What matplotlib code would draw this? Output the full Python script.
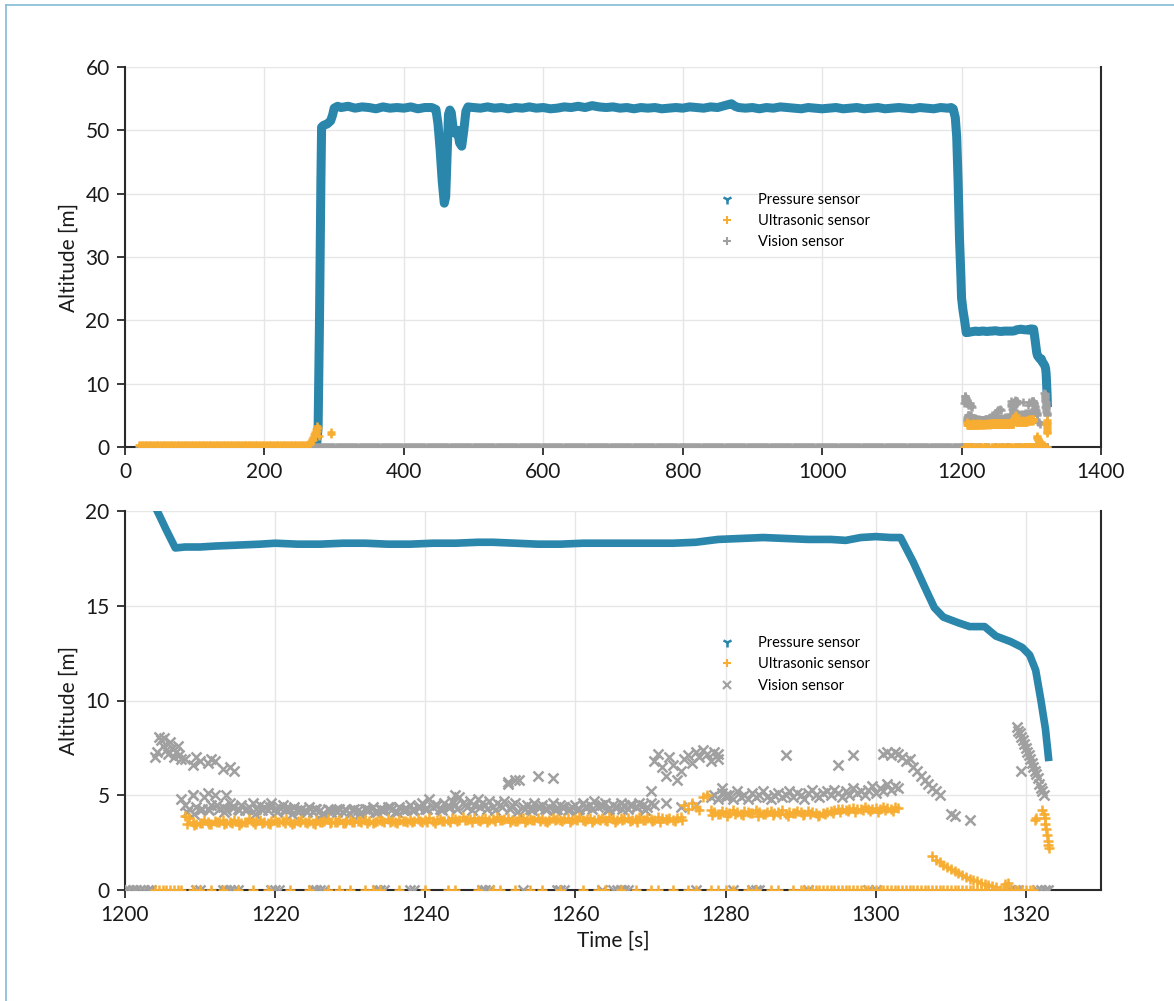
import numpy as np
import matplotlib
matplotlib.use("Agg")
import matplotlib.pyplot as plt
from matplotlib.lines import Line2D

plt.rcParams['font.family'] = ['Lato', 'DejaVu Sans']

# ---------------- data ----------------
# Pressure sensor (time [s], altitude [m])
pressure_t = [275, 277, 279, 281, 282, 285, 290, 295, 298, 300, 305, 310, 320, 330, 340, 350, 360,
              370, 380, 390, 400, 410, 420, 430, 440, 446, 449, 452, 455, 458, 460, 462, 464, 466,
              468, 471, 474, 477, 480, 483, 486, 489, 492,
              500, 510, 520, 530, 540, 550, 560, 570, 580, 590, 600, 610, 620, 630, 640, 650, 660,
              670, 680, 690, 700, 710, 720, 730, 740, 750, 760, 770, 780, 790, 800, 810, 820, 830,
              840, 850, 860, 870, 875, 880, 890, 900, 910, 920, 930, 940, 950, 960, 970, 980, 990,
              1000, 1010, 1020, 1030, 1040, 1050, 1060, 1070, 1080, 1090, 1100, 1110, 1120, 1130,
              1140, 1150, 1160, 1170, 1180, 1185, 1188, 1191, 1193, 1195, 1197, 1199,
              1200, 1202, 1204.3, 1205.5, 1206.7, 1208, 1210, 1212, 1215, 1218, 1220, 1223, 1226,
              1229, 1232, 1235, 1238, 1241, 1244, 1247, 1249, 1252, 1255, 1258, 1261, 1264, 1267,
              1270, 1273, 1276, 1279, 1282, 1285, 1288, 1291, 1294, 1296, 1298, 1300, 1302, 1303.3,
              1305, 1306.5, 1307.8, 1309, 1311, 1312.5, 1314.5, 1316, 1318, 1319.5, 1320.5, 1321.3,
              1322, 1322.6, 1323]
pressure_v = [0.5, 3, 20, 42, 50.5, 50.8, 51, 51.5, 52.5, 53.5, 53.8, 53.6, 53.8, 53.5, 53.7, 53.6, 53.4,
              53.7, 53.5, 53.6, 53.5, 53.7, 53.4, 53.6, 53.6, 53.3, 51, 47, 42, 38.5, 39.5, 46, 52.5, 53.2,
              52.8, 50, 49.5, 50, 48, 47.5, 50, 53, 53.7,
              53.6, 53.5, 53.7, 53.5, 53.6, 53.4, 53.6, 53.5, 53.7, 53.5, 53.6, 53.4, 53.5, 53.7, 53.6, 53.8, 53.6,
              53.9, 53.7, 53.6, 53.7, 53.5, 53.6, 53.4, 53.6, 53.5, 53.6, 53.4, 53.5, 53.6, 53.5, 53.7, 53.6, 53.5,
              53.7, 53.6, 53.9, 54.2, 53.8, 53.6, 53.5, 53.6, 53.4, 53.6, 53.5, 53.7, 53.6, 53.5, 53.4, 53.6, 53.5,
              53.4, 53.5, 53.6, 53.4, 53.5, 53.6, 53.4, 53.5, 53.6, 53.4, 53.5, 53.6, 53.5, 53.4,
              53.6, 53.5, 53.4, 53.6, 53.5, 53.6, 53.4, 52, 49, 42, 33, 27,
              23.5, 21.6, 20, 19, 18.05, 18.1, 18.1, 18.15, 18.2, 18.25, 18.3, 18.25, 18.25,
              18.3, 18.3, 18.25, 18.25, 18.3, 18.3, 18.35, 18.35, 18.3, 18.25, 18.25, 18.3, 18.3, 18.3,
              18.3, 18.3, 18.35, 18.5, 18.55, 18.6, 18.55, 18.5, 18.5, 18.45, 18.6, 18.65, 18.6, 18.6,
              17.3, 16, 14.9, 14.4, 14.1, 13.9, 13.9, 13.4, 13.1, 12.8, 12.4, 11.6,
              10, 8.5, 7.0]

# Ultrasonic sensor
ultra_early_t = list(np.arange(20, 264, 2.0))
ultra_early_v = [0.3] * len(ultra_early_t)
ultra_rise_t = [265, 266, 267, 268, 269, 270, 271, 272, 273, 274, 275, 276, 277, 278, 295, 296]
ultra_rise_v = [0.5, 0.8, 1.0, 1.3, 1.1, 1.6, 2.0, 1.7, 2.4, 2.9, 3.3, 2.6, 3.0, 1.8, 2.3, 2.1]

ultra_s1_t = list(np.arange(1208.0, 1275.0, 0.5))
ultra_s1_v = [3.9, 3.8, 3.6, 3.5, 3.55, 3.7, 3.6, 3.5, 3.65, 3.6,
              3.7, 3.55, 3.6, 3.7, 3.65, 3.55, 3.6, 3.75, 3.6, 3.65,
              3.7, 3.6, 3.55, 3.65, 3.7, 3.6, 3.65, 3.75, 3.6, 3.55,
              3.65, 3.7, 3.6, 3.65, 3.55, 3.7, 3.6, 3.65, 3.75, 3.6,
              3.6, 3.7, 3.55, 3.65, 3.7, 3.6, 3.65, 3.6, 3.7, 3.65,
              3.55, 3.65, 3.7, 3.6, 3.75, 3.65, 3.6, 3.7, 3.65, 3.6,
              3.7, 3.65, 3.75, 3.6, 3.7, 3.8, 3.65, 3.7, 3.75, 3.65,
              3.7, 3.8, 3.75, 3.7, 3.85, 3.7, 3.75, 3.8, 3.7, 3.75,
              3.8, 3.7, 3.75, 3.85, 3.7, 3.75, 3.8, 3.7, 3.65, 3.75,
              3.8, 3.7, 3.75, 3.7, 3.8, 3.75, 3.65, 3.7, 3.8, 3.75,
              3.7, 3.75, 3.8, 3.7, 3.75, 3.85, 3.7, 3.75, 3.8, 3.7,
              3.75, 3.8, 3.7, 3.85, 3.75, 3.7, 3.8, 3.75, 3.8, 3.7,
              3.75, 3.85, 3.7, 3.8, 3.75, 3.7, 3.85, 3.8, 3.75, 3.8,
              3.7, 3.8, 3.85, 4.5]
ultra_s1b_t = list(np.arange(1208.25, 1275.0, 1.0))
ultra_s1b_v = [3.5, 3.45, 3.55, 3.5, 3.6, 3.5, 3.55, 3.45, 3.6, 3.5,
               3.55, 3.5, 3.6, 3.55, 3.5, 3.6, 3.55, 3.5, 3.6, 3.55,
               3.6, 3.55, 3.6, 3.65, 3.55, 3.6, 3.65, 3.6, 3.55, 3.65,
               3.6, 3.65, 3.6, 3.55, 3.65, 3.6, 3.65, 3.7, 3.6, 3.65,
               3.6, 3.65, 3.7, 3.6, 3.65, 3.6, 3.7, 3.65, 3.6, 3.7,
               3.65, 3.6, 3.7, 3.65, 3.6, 3.7, 3.65, 3.6, 3.7, 3.65,
               3.6, 3.7, 3.65, 3.6, 3.7, 3.65, 3.7]
ultra_s2_t = list(np.arange(1275.0, 1303.5, 0.5))
ultra_s2_v = [4.3, 4.6, 4.4, 4.2, 4.9, 5.0, 4.2, 4.1, 4.0, 4.15,
              4.1, 4.05, 4.2, 4.1, 4.0, 4.15, 4.1, 4.05, 4.2, 4.1,
              4.0, 4.1, 4.15, 4.05, 4.1, 4.2, 4.0, 4.1, 4.05, 4.15,
              4.1, 4.0, 4.15, 4.1, 4.05, 3.95, 4.05, 4.1, 4.15, 4.2,
              4.25, 4.3, 4.2, 4.3, 4.35, 4.25, 4.3, 4.4, 4.3, 4.25,
              4.35, 4.3, 4.4, 4.35, 4.3, 4.4, 4.35]
ultra_s2b_t = list(np.arange(1278.25, 1303.0, 1.0))
ultra_s2b_v = [3.95, 4.0, 3.9, 4.0, 3.95, 4.05, 3.9, 4.0, 3.95, 4.0, 3.9, 4.05, 3.95,
               4.0, 3.9, 4.0, 4.05, 4.1, 4.15, 4.1, 4.2, 4.15, 4.1, 4.2, 4.15]
ultra_s3_t = list(np.arange(1307.5, 1316.5, 0.5))
ultra_s3_v = [1.8, 1.6, 1.5, 1.3, 1.2, 1.1, 1.0, 0.9, 0.8, 0.7, 0.6, 0.55, 0.45, 0.35, 0.3, 0.25, 0.2, 0.15]
ultra_s4_t = [1317.2, 1317.6, 1321.2, 1321.4, 1322.2, 1322.4, 1322.5, 1322.6, 1322.7, 1322.8, 1322.9, 1323.0, 1323.1]
ultra_s4_v = [0.3, 0.35, 3.7, 3.8, 4.2, 4.0, 3.8, 3.5, 3.2, 2.9, 2.6, 2.4, 2.2]
ultra_zero_t = ([1204, 1204.5, 1205, 1205.5, 1206, 1206.5, 1207, 1207.5, 1209, 1210, 1211.5, 1213,
                 1215, 1217, 1219, 1222, 1224.5, 1227, 1228.5, 1230, 1232, 1233, 1234, 1236.5, 1240,
                 1243, 1244, 1247, 1249, 1250, 1252, 1254, 1255.5, 1258, 1261, 1263, 1264, 1266,
                 1268, 1270, 1271, 1273, 1275, 1276, 1278, 1279, 1280, 1281, 1283, 1284, 1286, 1287,
                 1289] + list(np.arange(1290, 1321.5, 0.5)))
ultra_zero_v = [0.0] * len(ultra_zero_t)

# Vision sensor
vis_early_t = list(np.arange(20, 1200, 1.5))
vis_early_v = [0.0] * len(vis_early_t)
vis_a_t = list(np.arange(1204.0, 1207.75, 0.25))
vis_a_v = [7.0, 7.3, 8.1, 7.9, 7.6, 8.0, 7.4, 7.2, 7.8, 7.5, 7.0, 7.3, 7.6, 7.1, 6.9]
vis_b_t = [1208, 1209, 1209.5, 1210, 1211, 1211.5, 1212, 1213, 1214, 1214.5]
vis_b_v = [6.9, 6.6, 7.0, 6.8, 6.7, 6.9, 6.8, 6.4, 6.5, 6.3]
vis_c_t = list(np.arange(1207.5, 1270.5, 0.5))
vis_c_v = [4.8, 4.5, 4.3, 5.0, 4.4, 4.2, 4.9, 4.3, 4.5, 5.0,
           4.3, 4.4, 4.2, 4.6, 4.4, 4.3, 4.5, 4.2, 4.4, 4.6,
           4.3, 4.5, 4.4, 4.2, 4.6, 4.3, 4.4, 4.5, 4.2, 4.3,
           4.4, 4.1, 4.3, 4.2, 4.4, 4.1, 4.3, 4.2, 4.0, 4.3,
           4.1, 4.2, 4.3, 4.1, 4.2, 4.0, 4.3, 4.2, 4.1, 4.3,
           4.2, 4.4, 4.1, 4.3, 4.2, 4.4, 4.3, 4.1, 4.4, 4.2,
           4.3, 4.5, 4.2, 4.4, 4.6, 4.3, 4.8, 4.4, 4.5, 4.3,
           4.6, 4.4, 4.7, 4.5, 4.9, 4.6, 4.4, 4.7, 4.5, 4.8,
           4.6, 4.5, 4.7, 4.4, 4.6, 4.5, 4.7, 5.7, 4.5, 4.6,
           5.8, 4.4, 4.5, 4.3, 4.6, 4.4, 4.5, 4.3, 4.4, 4.6,
           4.3, 4.5, 4.4, 4.2, 4.4, 4.5, 4.3, 4.6, 4.4, 4.5,
           4.7, 4.4, 4.5, 4.6, 4.3, 4.5, 4.4, 4.6, 4.5, 4.3,
           4.5, 4.4, 4.6, 4.5, 4.4, 4.6]
vis_c2_t = list(np.arange(1208.25, 1270.0, 1.0))
vis_c2_v = [4.1, 4.0, 4.3, 4.2, 4.5, 4.1, 4.4, 4.2, 4.3, 4.0,
            4.2, 4.4, 4.1, 4.3, 4.0, 4.2, 4.1, 4.3, 4.0, 4.2,
            4.1, 4.3, 4.2, 4.0, 4.3, 4.1, 4.2, 4.4, 4.1, 4.3,
            4.2, 4.4, 4.3, 4.5, 4.2, 4.4, 4.3, 4.5, 4.2, 4.4,
            4.3, 4.2, 4.4, 4.3, 4.1, 4.3, 4.2, 4.4, 4.3, 4.2,
            4.4, 4.3, 4.2, 4.4, 4.3, 4.5, 4.2, 4.4, 4.3, 4.5,
            4.4, 4.2]
vis_out_t = [1209, 1211, 1213.5, 1244, 1251, 1252, 1255, 1257, 1270.5, 1272, 1274, 1276,
             1279, 1288, 1295, 1297, 1310, 1310.5, 1312.5, 1319.3]
vis_out_v = [5.0, 5.1, 5.0, 5.0, 5.6, 5.8, 6.0, 5.9, 4.5, 4.6, 4.4, 4.5,
             7.2, 7.1, 6.6, 7.1, 4.0, 3.9, 3.7, 6.3]
vis_d_t = list(np.arange(1270.0, 1280.5, 0.5))
vis_d_v = [5.2, 6.8, 7.2, 6.5, 6.0, 7.0, 6.6, 5.8, 6.3, 6.9, 7.1, 6.7, 7.3, 7.0, 7.4, 7.2, 6.8,
           7.3, 6.9, 5.4, 5.0]
vis_e_t = list(np.arange(1278.0, 1303.5, 0.5))
vis_e_v = [4.9, 5.0, 4.8, 5.1, 4.9, 5.0, 4.8, 5.2, 4.9, 5.0,
           4.8, 5.1, 4.9, 5.0, 5.2, 4.9, 4.8, 5.0, 5.1, 4.9,
           5.0, 5.2, 4.9, 5.1, 5.0, 4.8, 5.1, 5.3, 5.0, 4.9,
           5.1, 5.2, 5.0, 5.3, 5.1, 4.9, 5.2, 5.0, 5.4, 5.1,
           5.2, 5.0, 5.3, 5.5, 5.1, 5.4, 5.2, 5.6, 5.3, 5.5,
           5.4]
vis_f_t = list(np.arange(1301.0, 1309.0, 0.5))
vis_f_v = [7.2, 7.3, 7.1, 7.3, 7.2, 7.0, 6.8, 6.9, 6.5, 6.3, 6.0, 5.8, 5.6, 5.4, 5.2, 5.0]
vis_g_t = [1318.8, 1319.0, 1319.2, 1319.4, 1319.6, 1319.8, 1320.0, 1320.2, 1320.4, 1320.6,
           1320.8, 1321.0, 1321.2, 1321.4, 1321.6, 1321.8, 1322.0, 1322.2, 1322.4]
vis_g_v = [8.6, 8.4, 8.3, 8.1, 7.9, 7.7, 7.5, 7.3, 7.1, 6.9, 6.7, 6.5, 6.3, 6.1, 5.9, 5.6, 5.4, 5.2, 5.0]
vis_zero_t = [1200, 1200.5, 1201, 1201.5, 1202, 1202.5, 1203, 1203.5, 1209.5, 1210, 1213, 1213.5,
              1214, 1214.5, 1215, 1219.5, 1220, 1220.5, 1225, 1225.5, 1226, 1226.5, 1233.5, 1234,
              1234.5, 1238, 1238.5, 1247.5, 1248, 1248.5, 1253, 1257.5, 1258, 1258.5, 1263.5,
              1265, 1265.5, 1266, 1266.5, 1267, 1276, 1281, 1283.5, 1284, 1284.5, 1291, 1299,
              1300, 1318, 1318.5, 1319, 1321.5, 1322, 1322.5, 1323]
vis_zero_v = [0.0] * len(vis_zero_t)

C_P = '#2b86ab'
C_U = '#f7ad32'
C_V = '#a0a0a0'

ultra_t = ultra_zero_t + ultra_s1_t + ultra_s1b_t + ultra_s2_t + ultra_s2b_t + ultra_s3_t + ultra_s4_t
ultra_v = ultra_zero_v + ultra_s1_v + ultra_s1b_v + ultra_s2_v + ultra_s2b_v + ultra_s3_v + ultra_s4_v
vis_t = vis_zero_t + vis_a_t + vis_b_t + vis_c_t + vis_c2_t + vis_out_t + vis_d_t + vis_e_t + vis_f_t + vis_g_t
vis_v = vis_zero_v + vis_a_v + vis_b_v + vis_c_v + vis_c2_v + vis_out_v + vis_d_v + vis_e_v + vis_f_v + vis_g_v

# ---------------- figure ----------------
W, H = 1174, 1001
fig = plt.figure(figsize=(W / 100, H / 100), dpi=100)

def ax_rect(l, t, r, b):
    return [l / W, 1 - b / H, (r - l) / W, (b - t) / H]

ax1 = fig.add_axes(ax_rect(125, 67, 1101, 447))
ax2 = fig.add_axes(ax_rect(125, 511, 1101, 890))

def style(ax):
    ax.grid(True, color='#e6e6e6', lw=1.0)
    ax.set_axisbelow(True)
    for s in ['left', 'bottom', 'right']:
        ax.spines[s].set_color('#2a2a2a')
        ax.spines[s].set_linewidth(1.5)
    ax.spines['top'].set_visible(False)
    ax.tick_params(direction='out', length=6, width=1.3, color='#2a2a2a',
                   labelsize=15, labelcolor='#1a1a1a', pad=5)
    ax.set_ylabel('Altitude [m]', fontsize=15, color='#1a1a1a', labelpad=5)

# --- top panel ---
ax1.plot(pressure_t, pressure_v, color=C_P, lw=6.5, solid_joinstyle='round', zorder=3)
ax1.plot(vis_early_t + vis_t, vis_early_v + vis_v, linestyle='none', marker='+',
         color=C_V, ms=6, mew=1.8, zorder=4)
ax1.plot(ultra_early_t + ultra_rise_t + ultra_t, ultra_early_v + ultra_rise_v + ultra_v,
         linestyle='none', marker='+', color=C_U, ms=6, mew=1.8, zorder=5)
ax1.set_xlim(0, 1400)
ax1.set_ylim(0, 60)
ax1.set_xticks([0, 200, 400, 600, 800, 1000, 1200, 1400])
ax1.set_yticks([0, 10, 20, 30, 40, 50, 60])
style(ax1)

# --- bottom panel ---
ax2.plot(pressure_t, pressure_v, color=C_P, lw=5.5, solid_joinstyle='round', zorder=3)
ax2.plot(vis_t, vis_v, linestyle='none', marker='x', color=C_V, ms=7, mew=1.8, zorder=4)
ax2.plot(ultra_t, ultra_v, linestyle='none', marker='+', color=C_U, ms=7, mew=1.8, zorder=5)
ax2.set_xlim(1200, 1330)
ax2.set_ylim(0, 20)
ax2.set_xticks([1200, 1220, 1240, 1260, 1280, 1300, 1320])
ax2.set_yticks([0, 5, 10, 15, 20])
style(ax2)
ax2.set_xlabel('Time [s]', fontsize=15, color='#1a1a1a', labelpad=4)

def legend(ax, vis_marker):
    handles = [Line2D([], [], linestyle='none', marker='1', color=C_P, ms=7, mew=1.8),
               Line2D([], [], linestyle='none', marker='+', color=C_U, ms=6, mew=1.5),
               Line2D([], [], linestyle='none', marker=vis_marker, color=C_V, ms=6 if vis_marker == '+' else 5.5, mew=1.5)]
    ax.legend(handles, ['Pressure sensor', 'Ultrasonic sensor', 'Vision sensor'],
              loc='center left', bbox_to_anchor=((720 - 125) / 976, 0.595),
              frameon=False, fontsize=10.5, handlelength=1.0, handletextpad=1.6,
              borderpad=0, borderaxespad=0, labelspacing=0.5)

legend(ax1, '+')
legend(ax2, 'x')

# light blue page frame (left and top)
fig.add_artist(Line2D([6 / W, 6 / W], [0, 1 - 5 / H], color='#8cbfd8', lw=1.3))
fig.add_artist(Line2D([6 / W, 1], [1 - 5 / H, 1 - 5 / H], color='#8cbfd8', lw=1.3))

fig.savefig('out.png', dpi=100)
